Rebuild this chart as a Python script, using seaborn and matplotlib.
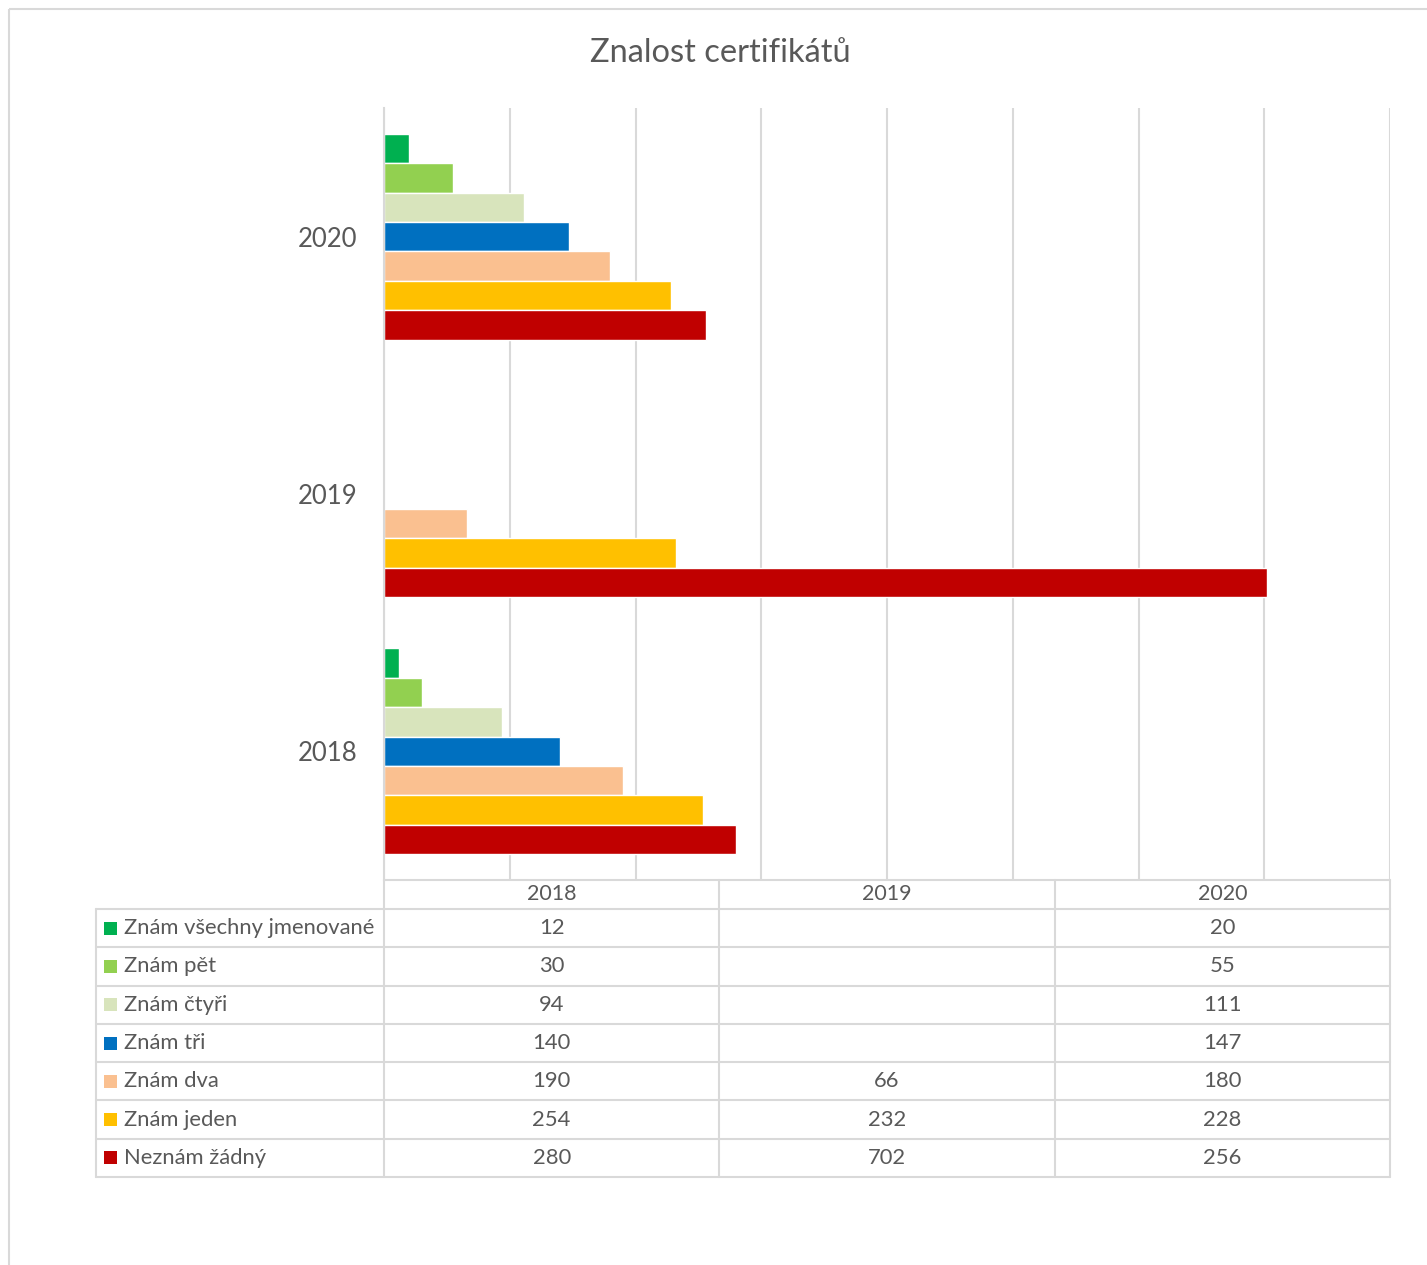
import pandas as pd
import seaborn as sns
import matplotlib.pyplot as plt
from matplotlib.patches import Rectangle

years = ['2018', '2019', '2020']
answers = ['Znám všechny jmenované', 'Znám pět', 'Znám čtyři', 'Znám tři',
           'Znám dva', 'Znám jeden', 'Neznám žádný']
colors = ['#00B050', '#92D050', '#D8E4BC', '#0070C0', '#FAC090', '#FFC000', '#C00000']
counts_2018 = [12, 30, 94, 140, 190, 254, 280]
counts_2019 = [None, None, None, None, 66, 232, 702]
counts_2020 = [20, 55, 111, 147, 180, 228, 256]

W, H = 1427, 1265
TXT = '#595959'
LINE = '#D9D9D9'

sns.set_theme(style='white')
plt.rcParams['font.family'] = ['Lato', 'DejaVu Sans']

rows = []
for year, vals in zip(years, [counts_2018, counts_2019, counts_2020]):
    for ans, v in zip(answers, vals):
        rows.append({'rok': year, 'odpoved': ans, 'pocet': v})
df = pd.DataFrame(rows).dropna()

fig = plt.figure(figsize=(W / 100, H / 100), dpi=100)

# plot area in pixel layout
L, R, T, B = 384, 1390, 108, 880
ax = fig.add_axes([L / W, 1 - B / H, (R - L) / W, (B - T) / H])
sns.barplot(data=df, y='rok', x='pocet', hue='odpoved', order=years[::-1],
            hue_order=answers, palette=colors, orient='h', errorbar=None,
            width=0.8, saturation=1, legend=False, ax=ax)
ax.set_xlim(0, 800)
ax.set_xticks(range(0, 801, 100))
ax.set_xticklabels([])
ax.grid(axis='x', color=LINE, linewidth=1.5)
ax.set_axisbelow(True)
for s in ['top', 'right', 'bottom']:
    ax.spines[s].set_visible(False)
ax.spines['left'].set_color(LINE)
ax.spines['left'].set_linewidth(1.5)
ax.set_xlabel('')
ax.set_ylabel('')
ax.tick_params(axis='y', length=0, pad=19, labelsize=18.5, labelcolor=TXT)
ax.tick_params(axis='x', length=0)

# overlay in pixel coordinates for title, table and border
ov = fig.add_axes([0, 0, 1, 1], zorder=5)
ov.set_xlim(0, W)
ov.set_ylim(H, 0)
ov.axis('off')
ov.add_patch(Rectangle((9, 9), W + 10, H + 10, fill=False, edgecolor=LINE, linewidth=1.5))
ov.text(720, 53, 'Znalost certifikátů', ha='center', va='center', fontsize=23.5, color=TXT)

col_x = [L + (R - L) * i / 3 for i in range(4)]
head_top, head_bot = B, 909
row_h = (1177 - head_bot) / len(answers)
tbl_left = 96
lw = 1.5
# header row
ov.plot([L, R], [head_top, head_top], color=LINE, lw=lw)
for x in col_x:
    ov.plot([x, x], [head_top, head_bot], color=LINE, lw=lw)
for i, year in enumerate(years):
    ov.text((col_x[i] + col_x[i + 1]) / 2, (head_top + head_bot) / 2, year,
            ha='center', va='center', fontsize=15.5, color=TXT)
# body rows
for r in range(len(answers) + 1):
    y = head_bot + r * row_h
    ov.plot([tbl_left, R], [y, y], color=LINE, lw=lw)
for x in [tbl_left] + col_x:
    ov.plot([x, x], [head_bot, 1177], color=LINE, lw=lw)
table_vals = [counts_2018, counts_2019, counts_2020]
for r, (ans, col) in enumerate(zip(answers, colors)):
    yc = head_bot + (r + 0.5) * row_h
    ov.add_patch(Rectangle((104, yc - 6.5), 13, 13, color=col, lw=0))
    ov.text(124, yc, ans, ha='left', va='center', fontsize=15.8, color=TXT)
    for i in range(3):
        v = table_vals[i][r]
        if v is not None:
            ov.text((col_x[i] + col_x[i + 1]) / 2, yc, str(v),
                    ha='center', va='center', fontsize=15.8, color=TXT)

fig.savefig('out.png', dpi=100, facecolor='white')
